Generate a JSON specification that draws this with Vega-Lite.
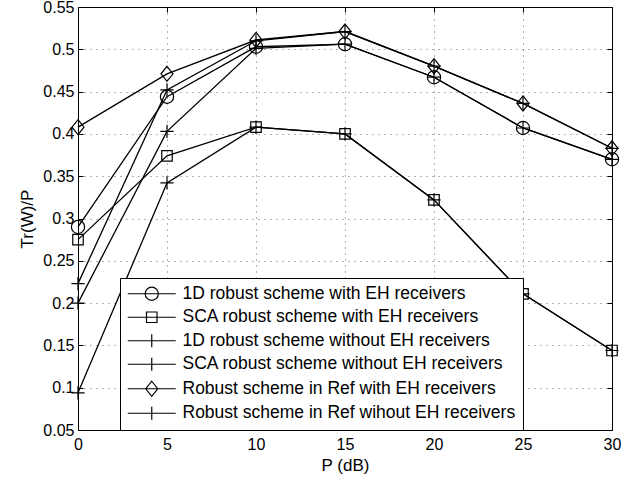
{
  "$schema": "https://vega.github.io/schema/vega-lite/v6.json",
  "width": 534,
  "height": 423,
  "autosize": "none",
  "padding": {"left": 78, "top": 7, "right": 25, "bottom": 48},
  "background": "white",
  "config": {
    "view": {"stroke": "black", "strokeWidth": 1},
    "font": "Liberation Sans",
    "axis": {
      "domainColor": "black", "tickColor": "black", "labelColor": "black", "titleColor": "black",
      "labelFont": "Liberation Sans", "titleFont": "Liberation Sans",
      "labelFontSize": 16, "titleFontSize": 17, "titleFontWeight": "normal",
      "gridColor": "black", "gridDash": [1, 5], "gridOpacity": 0.6, "labelFlush": false
    }
  },
  "data": {"values": [
    {"x": 0, "y": 0.29, "s": "1D robust scheme with EH receivers"},
    {"x": 5, "y": 0.444, "s": "1D robust scheme with EH receivers"},
    {"x": 10, "y": 0.503, "s": "1D robust scheme with EH receivers"},
    {"x": 15, "y": 0.506, "s": "1D robust scheme with EH receivers"},
    {"x": 20, "y": 0.467, "s": "1D robust scheme with EH receivers"},
    {"x": 25, "y": 0.407, "s": "1D robust scheme with EH receivers"},
    {"x": 30, "y": 0.370, "s": "1D robust scheme with EH receivers"},
    {"x": 0, "y": 0.275, "s": "SCA robust scheme with EH receivers"},
    {"x": 5, "y": 0.374, "s": "SCA robust scheme with EH receivers"},
    {"x": 10, "y": 0.408, "s": "SCA robust scheme with EH receivers"},
    {"x": 15, "y": 0.400, "s": "SCA robust scheme with EH receivers"},
    {"x": 20, "y": 0.322, "s": "SCA robust scheme with EH receivers"},
    {"x": 25, "y": 0.211, "s": "SCA robust scheme with EH receivers"},
    {"x": 30, "y": 0.144, "s": "SCA robust scheme with EH receivers"},
    {"x": 0, "y": 0.200, "s": "1D robust scheme without EH receivers"},
    {"x": 5, "y": 0.403, "s": "1D robust scheme without EH receivers"},
    {"x": 10, "y": 0.501, "s": "1D robust scheme without EH receivers"},
    {"x": 15, "y": 0.506, "s": "1D robust scheme without EH receivers"},
    {"x": 20, "y": 0.467, "s": "1D robust scheme without EH receivers"},
    {"x": 25, "y": 0.407, "s": "1D robust scheme without EH receivers"},
    {"x": 30, "y": 0.370, "s": "1D robust scheme without EH receivers"},
    {"x": 0, "y": 0.094, "s": "SCA robust scheme without EH receivers"},
    {"x": 5, "y": 0.342, "s": "SCA robust scheme without EH receivers"},
    {"x": 10, "y": 0.408, "s": "SCA robust scheme without EH receivers"},
    {"x": 15, "y": 0.400, "s": "SCA robust scheme without EH receivers"},
    {"x": 20, "y": 0.322, "s": "SCA robust scheme without EH receivers"},
    {"x": 25, "y": 0.211, "s": "SCA robust scheme without EH receivers"},
    {"x": 30, "y": 0.144, "s": "SCA robust scheme without EH receivers"},
    {"x": 0, "y": 0.408, "s": "Robust scheme in Ref with EH receivers"},
    {"x": 5, "y": 0.471, "s": "Robust scheme in Ref with EH receivers"},
    {"x": 10, "y": 0.511, "s": "Robust scheme in Ref with EH receivers"},
    {"x": 15, "y": 0.521, "s": "Robust scheme in Ref with EH receivers"},
    {"x": 20, "y": 0.480, "s": "Robust scheme in Ref with EH receivers"},
    {"x": 25, "y": 0.436, "s": "Robust scheme in Ref with EH receivers"},
    {"x": 30, "y": 0.383, "s": "Robust scheme in Ref with EH receivers"},
    {"x": 0, "y": 0.223, "s": "Robust scheme in Ref wihout EH receivers"},
    {"x": 5, "y": 0.452, "s": "Robust scheme in Ref wihout EH receivers"},
    {"x": 10, "y": 0.510, "s": "Robust scheme in Ref wihout EH receivers"},
    {"x": 15, "y": 0.521, "s": "Robust scheme in Ref wihout EH receivers"},
    {"x": 20, "y": 0.480, "s": "Robust scheme in Ref wihout EH receivers"},
    {"x": 25, "y": 0.436, "s": "Robust scheme in Ref wihout EH receivers"},
    {"x": 30, "y": 0.383, "s": "Robust scheme in Ref wihout EH receivers"}
  ]},
  "layer": [
    {
      "mark": {"type": "line", "color": "black", "strokeWidth": 1.3},
      "encoding": {
        "x": {"field": "x", "type": "quantitative", "scale": {"domain": [0, 30], "nice": false},
              "axis": {"orient": "bottom", "values": [0, 5, 10, 15, 20, 25, 30], "title": "P (dB)", "grid": true, "ticks": false, "labelPadding": 6, "titlePadding": 5}},
        "y": {"field": "y", "type": "quantitative", "scale": {"domain": [0.05, 0.55], "nice": false, "zero": false},
              "axis": {"orient": "left", "values": [0.05, 0.1, 0.15, 0.2, 0.25, 0.3, 0.35, 0.4, 0.45, 0.5, 0.55], "format": ".2~f", "title": "Tr(W)/P", "grid": true, "ticks": false, "labelPadding": 4, "titlePadding": 6}},
        "detail": {"field": "s"}
      }
    },
    {
      "mark": {"type": "point", "filled": false, "color": "black", "strokeWidth": 1.2, "size": 144, "opacity": 1},
      "encoding": {
        "x": {"field": "x", "type": "quantitative", "axis": {"orient": "top", "values": [0, 5, 10, 15, 20, 25, 30], "labels": false, "title": null, "grid": false, "domain": false, "tickSize": -5}},
        "y": {"field": "y", "type": "quantitative", "axis": {"orient": "right", "values": [0.05, 0.1, 0.15, 0.2, 0.25, 0.3, 0.35, 0.4, 0.45, 0.5, 0.55], "labels": false, "title": null, "grid": false, "domain": false, "tickSize": -5}},
        "shape": {"field": "s", "type": "nominal", "legend": null,
          "scale": {
            "domain": ["1D robust scheme with EH receivers", "SCA robust scheme with EH receivers", "1D robust scheme without EH receivers", "SCA robust scheme without EH receivers", "Robust scheme in Ref with EH receivers", "Robust scheme in Ref wihout EH receivers"],
            "range": ["M-1.1,0A1.1,1.1 0 1,1 1.1,0A1.1,1.1 0 1,1 -1.1,0", "M-0.875,-0.875H0.875V0.875H-0.875Z", "M-1.1,0H1.1M0,-1.1V1.1", "M-1.1,0H1.1M0,-1.1V1.1", "M0,-1.25L1,0L0,1.25L-1,0Z", "M-1.1,0H1.1M0,-1.1V1.1"]
          }}
      }
    },
    {
      "transform": [{"filter": "datum.x < -100"}],
      "mark": {"type": "point", "filled": false, "color": "black", "strokeWidth": 1.2, "size": 144},
      "encoding": {
        "x": {"field": "x", "type": "quantitative", "axis": {"orient": "bottom", "values": [0, 5, 10, 15, 20, 25, 30], "labels": false, "title": null, "grid": false, "domain": false, "tickSize": -5}},
        "y": {"field": "y", "type": "quantitative", "axis": {"orient": "left", "values": [0.05, 0.1, 0.15, 0.2, 0.25, 0.3, 0.35, 0.4, 0.45, 0.5, 0.55], "labels": false, "title": null, "grid": false, "domain": false, "tickSize": -5}},
        "shape": {"field": "s", "type": "nominal",
          "scale": {
            "domain": ["1D robust scheme with EH receivers", "SCA robust scheme with EH receivers", "1D robust scheme without EH receivers", "SCA robust scheme without EH receivers", "Robust scheme in Ref with EH receivers", "Robust scheme in Ref wihout EH receivers"],
            "range": ["M-4,0H4M-1.1,0A1.1,1.1 0 1,1 1.1,0A1.1,1.1 0 1,1 -1.1,0", "M-4,0H4M-0.875,-0.875H0.875V0.875H-0.875Z", "M-4,0H4M0,-1.1V1.1", "M-4,0H4M0,-1.1V1.1", "M-4,0H4M0,-1.25L1,0L0,1.25L-1,0Z", "M-4,0H4M0,-1.1V1.1"]
          },
          "legend": {"orient": "none", "legendX": 42, "legendY": 271, "title": null, "direction": "vertical",
            "labelFont": "Liberation Sans", "labelFontSize": 17.5, "labelColor": "black", "labelLimit": 600,
            "strokeColor": "black", "fillColor": "white", "padding": 7, "rowPadding": 4.5, "labelOffset": 22, "symbolOffset": 16,
            "symbolSize": 144, "symbolStrokeWidth": 1.2, "symbolStrokeColor": "black", "symbolFillColor": "transparent", "symbolOpacity": 1, "symbolLimit": 0}
        }
      }
    }
  ],
  "resolve": {"scale": {"shape": "independent"}, "axis": {"x": "independent", "y": "independent"}}
}
